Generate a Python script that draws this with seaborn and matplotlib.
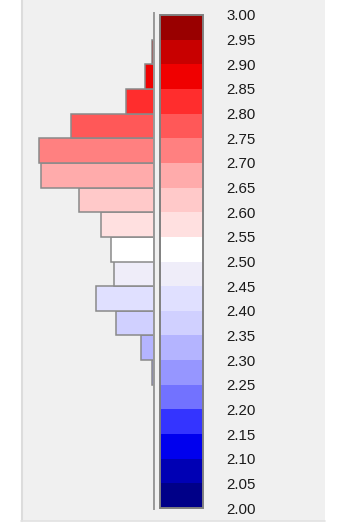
import matplotlib
matplotlib.use("Agg")
import numpy as np
import pandas as pd
import matplotlib.pyplot as plt
from matplotlib.colors import ListedColormap, BoundaryNorm
from matplotlib.cm import ScalarMappable
from matplotlib.patches import Rectangle
from matplotlib.lines import Line2D
import seaborn as sns

# Bin edges of the value scale (0.05 wide), lowest to highest
bin_edges = [2.00, 2.05, 2.10, 2.15, 2.20, 2.25, 2.30, 2.35, 2.40, 2.45,
             2.50, 2.55, 2.60, 2.65, 2.70, 2.75, 2.80, 2.85, 2.90, 2.95, 3.00]
tick_labels = ["2.00", "2.05", "2.10", "2.15", "2.20", "2.25", "2.30",
               "2.35", "2.40", "2.45", "2.50", "2.55", "2.60", "2.65",
               "2.70", "2.75", "2.80", "2.85", "2.90", "2.95", "3.00"]
# Counts per bin, lowest bin first
bin_counts = [0, 0, 0, 0, 0, 1, 7, 20, 31, 21,
              23, 28, 40, 60, 61, 44, 15, 5, 1, 0]
# Colour of each bin, lowest bin first (blue - white - red)
bin_colors = ["#000088", "#0000b4", "#0000ee", "#3434ff", "#7272ff",
              "#9696ff", "#b4b4ff", "#d0d0ff", "#e0e0ff", "#efedf9",
              "#ffffff", "#ffe0e0", "#ffc9c9", "#ffabab", "#ff8080",
              "#ff5858", "#ff2d2d", "#f00000", "#c80000", "#990000"]

edges = np.array(bin_edges)
centers = (edges[:-1] + edges[1:]) / 2
df = pd.DataFrame({"value": centers, "count": bin_counts})

sns.set_theme(style="white")
plt.rcParams["font.family"] = ["Liberation Sans", "DejaVu Sans"]

W, H = 338, 523
fig = plt.figure(figsize=(W / 100, H / 100), dpi=100, facecolor="white")

def fx(px):
    return px / W

def fy(py):
    return 1 - py / H

# Gray panel behind the chart
fig.patches.append(Rectangle((fx(21), fy(521)), fx(325) - fx(21), fy(0) - fy(521),
                             transform=fig.transFigure, facecolor="#f0f0f0",
                             edgecolor="none", zorder=-10))
fig.lines.append(Line2D([fx(21.5), fx(21.5)], [fy(521), fy(0)],
                        transform=fig.transFigure, color="#dcdcdc", lw=1.5,
                        zorder=-9))
fig.lines.append(Line2D([fx(21), fx(325)], [fy(520.5), fy(520.5)],
                        transform=fig.transFigure, color="#e2e2e2", lw=1.2,
                        zorder=-9))

# Histogram growing leftwards from the axis line
ax = fig.add_axes([fx(21), fy(509), fx(154) - fx(21), fy(13) - fy(509)])
ax.set_facecolor("none")
sns.histplot(data=df, y="value", weights="count", bins=list(bin_edges), ax=ax,
             element="bars", alpha=1, edgecolor="#8a8a8a", linewidth=1.1)
for patch, color in zip(ax.patches, bin_colors):
    patch.set_facecolor(color)
ax.set_xlim(70.6, 0)
ax.set_ylim(2.0 - 1 / 493, 3.0 + 2 / 493)
for side in ["top", "bottom", "left"]:
    ax.spines[side].set_visible(False)
ax.spines["right"].set_color("#999999")
ax.spines["right"].set_linewidth(1.4)
ax.set_xticks([])
ax.set_yticks([])
ax.set_xlabel("")
ax.set_ylabel("")

# Discrete colour scale
cax = fig.add_axes([fx(160), fy(508), fx(203) - fx(160), fy(15) - fy(508)])
cmap = ListedColormap(bin_colors)
norm = BoundaryNorm(edges, cmap.N)
cb = fig.colorbar(ScalarMappable(norm=norm, cmap=cmap), cax=cax, ticks=edges)
cb.set_ticklabels(tick_labels)
cb.outline.set_edgecolor("#808080")
cb.outline.set_linewidth(1.4)
cax.tick_params(axis="y", length=0, pad=17, labelsize=10.8, labelcolor="#1a1a1a")

fig.savefig("out.png", dpi=100, facecolor="white")
